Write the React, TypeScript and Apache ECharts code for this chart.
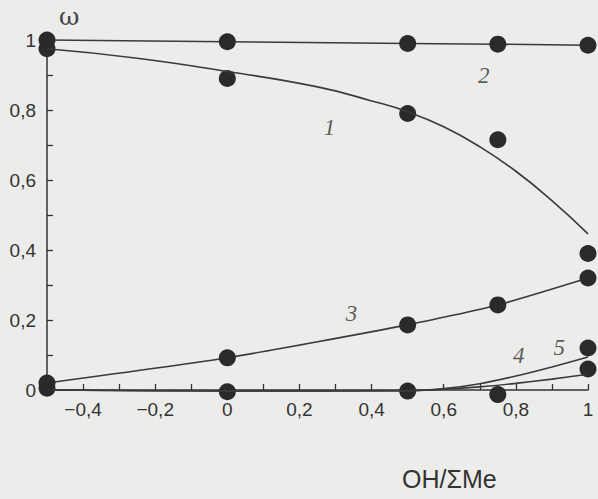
import React, { useEffect, useRef } from "react";
import * as echarts from "echarts";

const curve1X = [-0.5, -0.25, 0, 0.25, 0.4, 0.5, 0.6, 0.7, 0.8, 0.9, 1];
const curve1Y = [0.975, 0.948, 0.91, 0.866, 0.826, 0.795, 0.752, 0.695, 0.625, 0.541, 0.446];
const curve1PointsX = [-0.5, 0, 0.5, 0.75, 1];
const curve1PointsY = [0.975, 0.89, 0.79, 0.715, 0.39];

// Curve 2
const curve2X = [-0.5, 0, 0.5, 0.75, 1];
const curve2Y = [1.0, 0.995, 0.99, 0.988, 0.985];

// Curve 3
const curve3X = [-0.5, 0, 0.5, 0.75, 1];
const curve3Y = [0.02, 0.092, 0.186, 0.243, 0.32];

// Curves 4 and 5 (lines), and their measured points
const curve45X = [-0.5, 0, 0.5, 0.6, 0.7, 0.8, 0.9, 1];
const curve4Y = [0.0, -0.003, -0.002, 0.002, 0.009, 0.019, 0.031, 0.045];
const curve5Y = [0.0, -0.003, -0.002, 0.004, 0.018, 0.04, 0.066, 0.094];
const bottomPointsX = [-0.5, 0, 0.5, 0.75, 1, 1];
const bottomPointsY = [0.005, -0.005, -0.003, -0.013, 0.06, 0.12];

// Curve number labels
const curveLabelNames = ["1", "2", "3", "4", "5"];
const curveLabelX = [0.283, 0.711, 0.344, 0.808, 0.92];
const curveLabelY = [0.749, 0.9, 0.22, 0.1, 0.122];

const zip = (xs: number[], ys: number[]) => xs.map((x, i) => [x, ys[i]]);

const fmt = (v: number) => {
  const r = Math.round(v * 10);
  if (r % 2 !== 0) return "";
  return String(Math.round(v * 10) / 10).replace(".", ",").replace("-", "\u2212");
};

export default function App() {
  const ref = useRef<HTMLDivElement>(null);
  useEffect(() => {
    if (!ref.current) return;
    const chart = echarts.init(ref.current, undefined, { renderer: "svg" });
    const ink = "#2a2a2a";
    const lineStyle = { color: "#3a3a3a", width: 1.6 };
    const dot = { color: ink, opacity: 1 };
    chart.setOption({
      animation: false,
      backgroundColor: "#ececea",
      grid: { left: 47, right: 10, top: 40, bottom: 109 },
      xAxis: {
        type: "value",
        min: -0.5,
        max: 1,
        interval: 0.1,
        splitLine: { show: false },
        axisLine: { onZero: false, lineStyle: { color: "#333", width: 1.5 } },
        axisTick: { inside: true, length: 6, lineStyle: { color: "#333", width: 1.3 } },
        axisLabel: {
          margin: 10,
          fontFamily: "Liberation Sans",
          fontSize: 19,
          color: "#333",
          formatter: (v: number) => (v < -0.45 ? "" : fmt(v)),
        },
      },
      yAxis: {
        type: "value",
        min: 0,
        max: 1,
        interval: 0.1,
        splitLine: { show: false },
        axisLine: { show: true, onZero: false, lineStyle: { color: "#333", width: 1.5 } },
        axisTick: { show: true, inside: true, length: 6, lineStyle: { color: "#333", width: 1.3 } },
        axisLabel: {
          margin: 11,
          fontFamily: "Liberation Sans",
          fontSize: 19,
          color: "#333",
          formatter: (v: number) => fmt(v),
        },
      },
      graphic: [
        {
          type: "text",
          left: 59,
          top: 4,
          style: { text: "ω", fontFamily: "DejaVu Serif", fontSize: 25, fill: "#444" },
        },
        {
          type: "text",
          left: 402,
          top: 466,
          style: { text: "OH/ΣMe", fontFamily: "Liberation Sans", fontSize: 25, fill: "#333" },
        },
      ],
      series: [
        {
          type: "line",
          name: "1",
          data: zip(curve1X, curve1Y),
          smooth: true,
          symbol: "none",
          clip: false,
          lineStyle,
        },
        {
          type: "scatter",
          name: "1pts",
          data: zip(curve1PointsX, curve1PointsY),
          symbolSize: 17,
          itemStyle: dot,
          clip: false,
        },
        {
          type: "line",
          name: "2",
          data: zip(curve2X, curve2Y),
          symbolSize: 17,
          symbol: "circle",
          showSymbol: true,
          itemStyle: dot,
          clip: false,
          lineStyle,
        },
        {
          type: "line",
          name: "3",
          data: zip(curve3X, curve3Y),
          smooth: 0.2,
          symbolSize: 17,
          symbol: "circle",
          showSymbol: true,
          itemStyle: dot,
          clip: false,
          lineStyle,
        },
        {
          type: "line",
          name: "4",
          data: zip(curve45X, curve4Y),
          smooth: 0.3,
          symbol: "none",
          clip: false,
          lineStyle,
        },
        {
          type: "line",
          name: "5",
          data: zip(curve45X, curve5Y),
          smooth: 0.3,
          symbol: "none",
          clip: false,
          lineStyle,
        },
        {
          type: "scatter",
          name: "bottom pts",
          data: zip(bottomPointsX, bottomPointsY),
          symbolSize: 17,
          itemStyle: dot,
          clip: false,
        },
        {
          type: "scatter",
          name: "labels",
          data: curveLabelNames.map((n, i) => ({ name: n, value: [curveLabelX[i], curveLabelY[i]] })),
          symbolSize: 0,
          silent: true,
          label: {
            show: true,
            position: "inside",
            formatter: (p: any) => p.name,
            fontFamily: "Liberation Serif",
            fontStyle: "italic",
            fontSize: 23,
            color: "#333",
          },
        },
      ],
    });
    return () => chart.dispose();
  }, []);
  return (
    <div
      ref={ref}
      style={{ position: "fixed", left: 0, top: 0, width: 598, height: 499 }}
    />
  );
}
